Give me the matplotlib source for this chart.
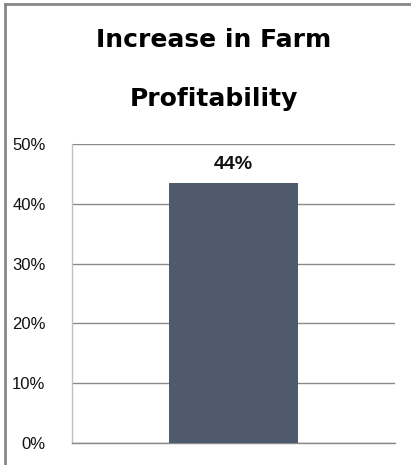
import matplotlib
matplotlib.use("Agg")
import matplotlib.pyplot as plt
from matplotlib.lines import Line2D
from matplotlib.ticker import PercentFormatter

# Chart data
title_lines = ["Increase in Farm", "Profitability"]
categories = ["Farm Profitability"]
values = [0.435]
bar_labels = ["44%"]
y_ticks = [0.0, 0.1, 0.2, 0.3, 0.4, 0.5]

fig = plt.figure(figsize=(4.11, 4.65), dpi=100)
fig.patch.set_facecolor("white")

ax = fig.add_axes([72 / 411, 1 - 443 / 465, (395 - 72) / 411, (443 - 144) / 465])

x = list(range(len(categories)))
bars = ax.bar(x, values, width=0.4, color="#4f5b6d", zorder=3)
ax.set_xlim(-0.5, 0.5)
ax.set_ylim(0, 0.5)
ax.set_yticks(y_ticks)
ax.yaxis.set_major_formatter(PercentFormatter(1.0, decimals=0))
ax.set_xticks([])

# Gridlines like Excel
ax.yaxis.grid(True, color="#8a8a8a", linewidth=1.0, zorder=0)
ax.set_axisbelow(True)
for side in ["top", "right"]:
    ax.spines[side].set_visible(False)
ax.spines["left"].set_color("#c0c0c0")
ax.spines["bottom"].set_color("#8a8a8a")
ax.spines["left"].set_linewidth(1.0)
ax.spines["bottom"].set_linewidth(1.0)
ax.tick_params(axis="y", length=0, pad=19, labelsize=12, labelcolor="#111111")
for lbl in ax.get_yticklabels():
    lbl.set_fontfamily("Liberation Sans")

# Value label above the bar
for rect, lab in zip(bars, bar_labels):
    ax.annotate(lab, (rect.get_x() + rect.get_width() / 2, rect.get_height()),
                xytext=(0, 7.2), textcoords="offset points", ha="center", va="bottom",
                fontsize=14, fontweight="bold", fontfamily="Liberation Sans", color="#111111")

# Title, two lines
fig.text(214 / 411, 1 - 47 / 465, title_lines[0], ha="center", va="baseline",
         fontsize=18, fontweight="bold", color="black")
fig.text(214 / 411, 1 - 106 / 465, title_lines[1], ha="center", va="baseline",
         fontsize=18, fontweight="bold", color="black")

# Outer chart border (only left and top are visible in the crop)
fig.add_artist(Line2D([5 / 411, 5 / 411], [0, 1 - 4 / 465], transform=fig.transFigure,
                      color="#878787", linewidth=2))
fig.add_artist(Line2D([5 / 411, 1], [1 - 4 / 465, 1 - 4 / 465], transform=fig.transFigure,
                      color="#878787", linewidth=2))

fig.savefig("out.png", dpi=100, facecolor="white")
